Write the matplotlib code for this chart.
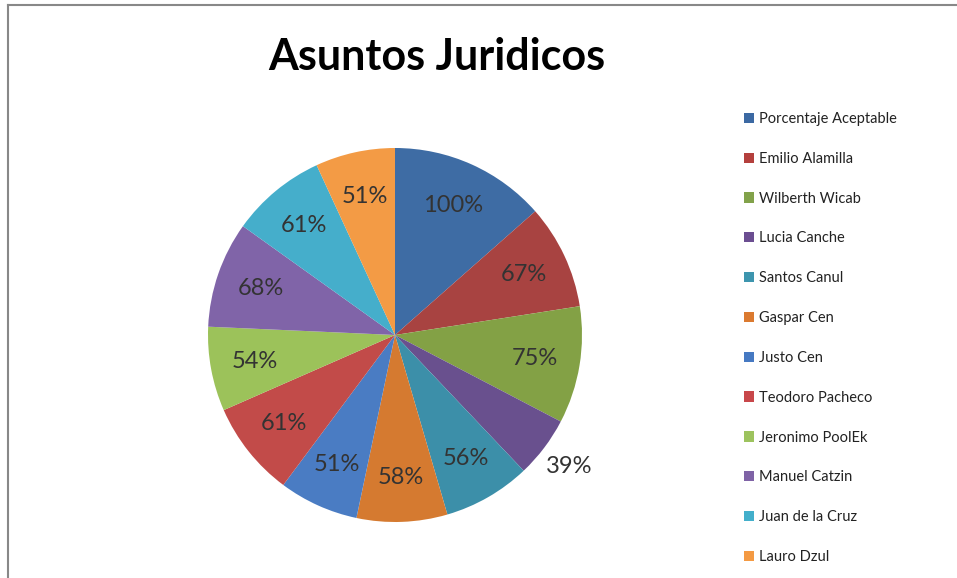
import matplotlib.pyplot as plt
from matplotlib.lines import Line2D
from matplotlib.patches import Patch
import numpy as np

# data
names = ['Porcentaje Aceptable', 'Emilio Alamilla', 'Wilberth Wicab', 'Lucia Canche',
         'Santos Canul', 'Gaspar Cen', 'Justo Cen', 'Teodoro Pacheco',
         'Jeronimo PoolEk', 'Manuel Catzin', 'Juan de la Cruz', 'Lauro Dzul']
percent = [100, 67, 75, 39, 56, 58, 51, 61, 54, 68, 61, 51]
colors = ['#3E6CA4', '#A84341', '#83A145', '#69508E', '#3C8FA9', '#D57A30',
          '#4A7CC3', '#C24B49', '#9CC25A', '#8064A8', '#45AECB', '#F39B45']
legend_colors = ['#3C69A3', '#B4403D', '#82A24A', '#6B4E91', '#3D95AE', '#DB7A30',
                 '#4679C2', '#C8474A', '#9DC35E', '#7F63A6', '#43AFCB', '#F49A43']

plt.rcParams['font.family'] = ['Lato', 'DejaVu Sans']

W, H = 957, 578
fig = plt.figure(figsize=(W / 100, H / 100), dpi=100)

# pie centre / radius in pixels
cx, cy, r = 395, 335, 187
ax = fig.add_axes([(cx - r) / W, (H - cy - r) / H, 2 * r / W, 2 * r / H])
wedges, texts = ax.pie(percent, colors=colors, startangle=90, counterclock=False,
                       radius=1.0, wedgeprops=dict(linewidth=0))
ax.set_xlim(-1, 1)
ax.set_ylim(-1, 1)
ax.axis('off')

for w, p in zip(wedges, percent):
    mid = np.deg2rad((w.theta1 + w.theta2) / 2)
    dist = 1.17 if p == 39 else 0.76
    ax.text(dist * np.cos(mid), dist * np.sin(mid), f'{p}%', ha='center', va='center',
            fontsize=17, color='#333333', clip_on=False)

fig.text(437 / W, 1 - 57 / H, 'Asuntos Juridicos', ha='center', va='center',
         fontsize=31, fontweight='bold', color='black')

handles = [Patch(facecolor=c, edgecolor='none') for c in legend_colors]
fig.legend(handles, names, loc='upper left', bbox_to_anchor=(744 / W, 1 - 112 / H),
           frameon=False, fontsize=10.5, handlelength=0.7, handleheight=0.7,
           handletextpad=0.35, labelspacing=1.77, borderaxespad=0, borderpad=0,
           labelcolor='#222222')

# grey frame (top and left edges visible in the reference)
fig.add_artist(Line2D([8 / W, 1.0], [1 - 5 / H, 1 - 5 / H], color='#888888', lw=1.5))
fig.add_artist(Line2D([8 / W, 8 / W], [0, 1 - 5 / H], color='#888888', lw=1.5))

fig.savefig('out.png', dpi=100, facecolor='white')
